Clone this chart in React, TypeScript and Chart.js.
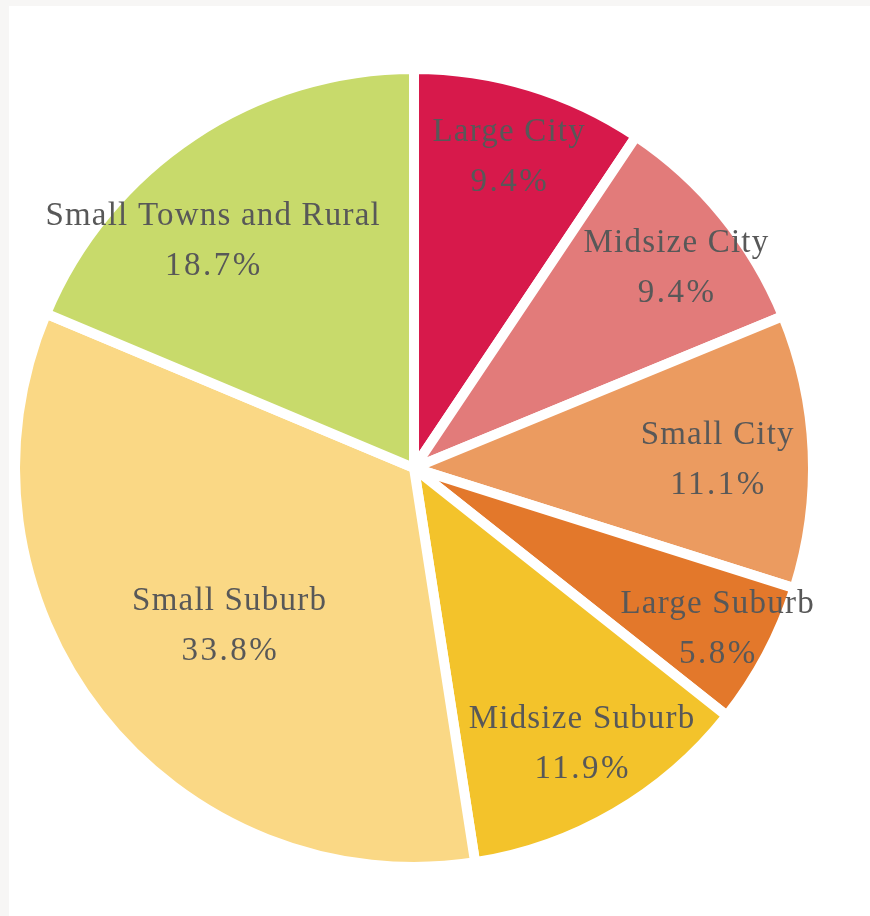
import React, { useEffect, useRef } from "react";
import { Chart, registerables } from "chart.js";

Chart.register(...registerables);

const categories = [
  "Large City",
  "Midsize City",
  "Small City",
  "Large Suburb",
  "Midsize Suburb",
  "Small Suburb",
  "Small Towns and Rural",
];
const shares = [9.4, 9.4, 11.1, 5.8, 11.9, 33.8, 18.7];
const percentLabels = ["9.4%", "9.4%", "11.1%", "5.8%", "11.9%", "33.8%", "18.7%"];
const colors = ["#d7194b", "#e27b7a", "#eb9b60", "#e3782b", "#f3c32b", "#fad885", "#c8da6b"];
// label placement: fraction of radius, angular shift (degrees)
const labelRadiusFrac = [0.815, 0.825, 0.76, 0.86, 0.81, 0.61, 0.76];
const labelAngleShift = [0, 2, 1, 0, -1, -2.5, -8];

const labelPlugin = {
  id: "sliceLabels",
  afterDatasetsDraw(chart: any) {
    const meta = chart.getDatasetMeta(0);
    const ctx = chart.ctx;
    ctx.save();
    ctx.font = '33px "Liberation Serif", "Times New Roman", serif';
    ctx.fillStyle = "#585858";
    ctx.textAlign = "center";
    ctx.textBaseline = "middle";
    meta.data.forEach((arc: any, i: number) => {
      const { x, y, startAngle, endAngle, outerRadius } = arc.getProps(
        ["x", "y", "startAngle", "endAngle", "outerRadius"],
        true
      );
      const mid = (startAngle + endAngle) / 2 + (labelAngleShift[i] * Math.PI) / 180;
      const r = outerRadius * labelRadiusFrac[i];
      const cx = x + Math.cos(mid) * r;
      const cy = y + Math.sin(mid) * r;
      (ctx as any).letterSpacing = "1.2px";
      ctx.fillText(categories[i], cx + 0.6, cy - 25);
      (ctx as any).letterSpacing = "2.5px";
      ctx.fillText(percentLabels[i], cx + 1.25, cy + 25);
    });
    ctx.restore();
  },
};

export default function App() {
  const ref = useRef<HTMLCanvasElement | null>(null);
  useEffect(() => {
    document.body.style.margin = "0";
    const chart = new Chart(ref.current as HTMLCanvasElement, {
      type: "pie",
      data: {
        labels: categories,
        datasets: [
          {
            data: shares,
            backgroundColor: colors,
            borderColor: "#ffffff",
            borderWidth: 10,
          },
        ],
      },
      options: {
        responsive: false,
        animation: false,
        radius: 399,
        layout: { padding: { left: 0, right: 51, top: 14, bottom: 0 } },
        plugins: {
          legend: { display: false },
          tooltip: { enabled: false },
        },
      } as any,
      plugins: [labelPlugin],
    });
    return () => chart.destroy();
  }, []);
  return (
    <div style={{ width: 870, height: 916, background: "#f7f6f5", position: "relative", overflow: "hidden" }}>
      <div style={{ position: "absolute", left: 9, top: 6, width: 861, height: 910, background: "#ffffff" }}>
        <canvas ref={ref} width={861} height={910} style={{ display: "block" }} />
      </div>
    </div>
  );
}
